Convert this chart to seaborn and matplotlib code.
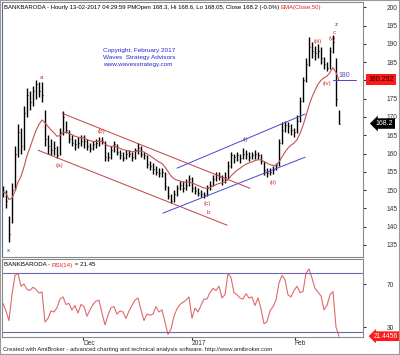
import matplotlib
matplotlib.use("Agg")
import pandas as pd
import seaborn as sns
from matplotlib import pyplot as plt
from matplotlib.patches import Rectangle

# hourly bars (roughly one value per 3 px)
high = [151, 150, 143, 152, 162, 168, 167, 173, 178, 177,
        178.5, 180, 179.5, 179.5, 172, 165, 164, 163.5, 162, 167,
        171.5, 169, 166.5, 165, 164, 164.5, 165, 165, 164, 163,
        163.5, 164, 164.5, 164.5, 163.5, 160.5, 162, 163.5, 162.5, 161,
        160.5, 161, 161, 160.5, 161.5, 163, 162, 160.5, 159.5, 158,
        157.5, 156.5, 156, 156, 155, 151, 149, 150, 151.5, 152.5,
        152.5, 153, 154, 153.5, 151, 150.5, 150, 149.5, 151.5, 152.5,
        154, 155, 155, 154, 155, 158, 160.5, 160, 160.5, 160,
        161.5, 161, 160.5, 160.5, 161, 160.5, 160, 158, 156, 156,
        156.5, 157.5, 164, 168.5, 169, 168.5, 168, 167, 170.5, 175.5,
        181, 186, 191.8, 190.5, 189.5, 190, 189, 186.5, 185, 189,
        192.3, 186, 172]
low = [148, 145, 135.8, 141, 150, 159, 160, 161, 170, 172,
       173, 175, 175.5, 174, 162, 160, 159.5, 159.5, 158.7, 159.5,
       165, 165.5, 163, 162, 161, 161.5, 162, 161.5, 161, 160.5,
       161, 161.5, 162, 162.5, 158, 158, 158.5, 160.5, 159.5, 158.5,
       158, 158.5, 159, 158, 158.5, 160, 159, 158.5, 156, 155.5,
       154.5, 154, 153.5, 153.5, 150, 147.5, 146.5, 146.8, 148.5, 150,
       149.5, 150, 151, 149.5, 148.8, 148.5, 148, 147.8, 148.5, 150,
       151, 152.5, 152.8, 151.5, 152, 153, 156, 157.5, 158, 157.5,
       158.5, 158.5, 158, 158.5, 158.5, 158.5, 157, 154, 153.5, 154,
       154.5, 155.5, 156.5, 162.5, 166, 165.5, 165, 164.5, 165.5, 168.5,
       174, 179.5, 184, 186, 185.5, 186, 184.5, 183, 182.5, 183,
       187.5, 173, 168]
close = [149.5, 147, 138, 150, 160, 166, 162, 171, 176, 174,
         177, 179, 177, 176, 164, 162, 161, 161.5, 159.5, 166,
         170, 166.5, 164, 163, 162.5, 163, 163.5, 163.5, 162, 161.5,
         162.5, 163, 163.5, 163.5, 159, 159, 161, 162.5, 160.5, 159.5,
         158.8, 160, 160, 159, 161, 161.5, 160, 159.5, 157, 156.5,
         155.8, 155, 154.6, 155, 151, 148.5, 147, 149, 150.5, 151.5,
         150.5, 151.5, 153, 150.5, 149.8, 149.2, 149, 148.6, 150.5, 151.5,
         153, 154, 153.6, 152.8, 153.5, 156.5, 159.5, 159, 159.6, 158.8,
         160, 160, 159, 159.6, 160, 159.5, 158, 155.5, 154.6, 155,
         155.5, 156.8, 163, 166.5, 167.8, 167.5, 166.5, 166, 169, 174.5,
         180, 184.5, 189, 188, 187.5, 188, 186, 184.5, 183.5, 188,
         190.5, 175, 168.2]
rsi = [52, 45, 36, 60, 78, 80, 68, 70, 65, 64,
       67, 65, 61.6, 62.5, 34.6, 38, 45, 44, 48, 56,
       58, 51, 52, 45.8, 50, 43, 51, 49, 40, 46,
       51, 54, 55, 43, 32, 41, 48, 49, 42, 45,
       44, 38, 45, 50, 55, 57, 46, 36, 42, 41,
       42, 49, 44, 46, 34.6, 23, 28, 40, 47, 51,
       53, 55, 58, 38, 47.6, 44, 50, 56, 56, 62,
       66, 64, 68, 57, 60, 80, 76, 62, 60, 57,
       56, 61, 57, 58, 50, 57, 47, 33, 35, 45,
       49, 55, 71, 78, 74, 60, 58, 64, 68, 62,
       63, 80, 84, 75.6, 66, 62.5, 59, 46, 50, 60,
       63, 30, 21.45]

date_labels = ['Dec', '2017', 'Feb']
date_bars = [26.7, 63, 97.3]

# wave counts (bar, price)
wave_text = ['x', 'a', '(a)', '(b)', '(c)', 'b', '(i)', '(ii)', '(iii)', '(iv)', '(v)', 'c', 'z']
wave_bar = [1.7, 13, 18.7, 33, 68, 68.3, 80.7, 90, 105, 108, 109.7, 110.3, 111]
wave_price = [133.6, 180.9, 156.8, 166.1, 146.2, 144, 163.7, 152.2, 190.7, 179.2, 191.5, 193.2, 195.4]
wave_color = ['#3030c0', '#d03030', '#d03030', '#d03030', '#d03030', '#d03030', '#9030a0',
              '#d03030', '#d03030', '#d03030', '#d03030', '#d03030', '#3030c0']

# channel lines: (bar0, bar1), (price0, price1)
red_upper = ([19.7, 82.3], [171.0, 150.5])
red_lower = ([11.7, 74.7], [160.9, 140.4])
blue_upper = ([58, 100.7], [156.0, 170.8])
blue_lower = ([53.3, 100.7], [143.7, 159.0])
level_180 = ([110, 117.7], [180, 180])

ema_last = 180.292
rsi_last = 21.4456

sns.set_style("white")
plt.rcParams['font.family'] = ['Liberation Sans', 'DejaVu Sans']

bars = pd.DataFrame({'bar': range(len(close)), 'high': high, 'low': low, 'close': close, 'rsi': rsi})
# bars here are ~2.5 hours wide, so the 50-hour EMA becomes a span of ~12 bars
bars['ema'] = bars['close'].ewm(span=12, adjust=False).mean()

fig = plt.figure(figsize=(4, 3.55), dpi=100)
ax = fig.add_axes([0.005, 0.276, 0.9025, 0.718])
rx = fig.add_axes([0.005, 0.0507, 0.9025, 0.2197], sharex=ax)

ax.vlines(bars['bar'], bars['low'], bars['high'], color='black', lw=1.0)
ax.hlines(bars['close'], bars['bar'], bars['bar'] + 0.5, color='black', lw=0.8)
sns.lineplot(data=bars, x='bar', y='ema', ax=ax, color='#c85050', lw=0.8)

for xs, ys, col in [(red_upper[0], red_upper[1], '#c04040'), (red_lower[0], red_lower[1], '#c04040'),
                    (blue_upper[0], blue_upper[1], '#4848c8'), (blue_lower[0], blue_lower[1], '#4848c8'),
                    (level_180[0], level_180[1], '#4848c8')]:
    ax.plot(xs, ys, color=col, lw=0.7)
ax.text(111.7, 180.4, '180', color='#4848c8', fontsize=5, va='bottom')

for t, xb, yp, c in zip(wave_text, wave_bar, wave_price, wave_color):
    ax.text(xb, yp, t, color=c, fontsize=4.5, ha='center', va='center')

ax.set_xlim(-0.33, 120)
ax.set_ylim(131.7, 201.4)
ax.set_yticks(range(135, 201, 5))
ax.set_yticklabels(['' if v == 180 else str(v) for v in range(135, 201, 5)])
ax.yaxis.tick_right()
ax.tick_params(axis='y', labelsize=4.8, pad=15, length=2, direction='out', right=True, colors='#333333')
ax.tick_params(axis='x', bottom=False, labelbottom=False)
ax.set_xlabel('')
ax.set_ylabel('')

ytr = ax.get_yaxis_transform()
ax.text(1.015, ema_last, '%.3f' % ema_last, transform=ytr, fontsize=5, va='center', ha='left',
        color='#200000', clip_on=False, zorder=5,
        bbox=dict(boxstyle='square,pad=0.3', fc='#ff1a1a', ec='none'))
ax.text(1.035, close[-1], '%.1f' % close[-1], transform=ytr, fontsize=5, va='center', ha='left',
        color='white', clip_on=False, zorder=5,
        bbox=dict(boxstyle='larrow,pad=0.25', fc='black', ec='none'))

ax.text(0.28, 0.82, 'Copyright, February 2017\nWaves  Strategy Advisors\nwww.wavesstrategy.com',
        transform=ax.transAxes, color='#2828d0', fontsize=4.6, va='top', linespacing=1.45)

# RSI panel
sns.lineplot(data=bars, x='bar', y='rsi', ax=rx, color='#e06a6a', lw=0.8)
rx.axhline(80, color='#6a6ab0', lw=0.8)
rx.axhline(25, color='#6a6ab0', lw=0.8)
rx.set_ylim(20.7, 93.3)
rx.set_yticks([30, 70])
rx.yaxis.tick_right()
rx.tick_params(axis='y', labelsize=4.8, pad=15, length=2, direction='out', right=True, colors='#333333')
rx.set_xticks(date_bars)
rx.set_xticklabels(date_labels)
rx.tick_params(axis='x', labelsize=4.8, length=2, pad=0, direction='out', bottom=True, colors='#333333')
for lbl in rx.get_xticklabels():
    lbl.set_ha('left')
rx.set_xlabel('')
rx.set_ylabel('')
rx.text(1.03, rsi_last, '%.4f' % rsi_last, transform=rx.get_yaxis_transform(), fontsize=4.8,
        va='center', ha='left', color='white', clip_on=False, zorder=5,
        bbox=dict(boxstyle='larrow,pad=0.2', fc='#ff1a1a', ec='none'))

for a in (ax, rx):
    for s in a.spines.values():
        s.set_color('#8a8a8a')
        s.set_linewidth(0.8)
ax.spines['left'].set_color('#5a6a90')


def chain(x, y, parts, size):
    fig.canvas.draw()
    r = fig.canvas.get_renderer()
    for txt, col in parts:
        t = fig.text(x, y, txt, color=col, fontsize=size, va='center')
        x = fig.transFigure.inverted().transform(t.get_window_extent(r))[1][0]


chain(0.01, 1 - 8 / 355, [('BANKBARODA - Hourly 13-02-2017 04:29:59 PMOpen 168.3, Hi 168.6, Lo 168.05, '
                          'Close 168.2 (-0.0%) ', 'black'), ('EMA(Close,50)', '#e02020')], 4.3)
chain(0.01, 1 - 265 / 355, [('BANKBARODA - ', 'black'), ('RSI(14)', '#e02020'), (' = 21.45', 'black')], 4.4)
fig.text(0.008, 1 - 350 / 355, 'Created with AmiBroker - advanced charting and technical analysis software. '
         'http://www.amibroker.com', fontsize=4.2, va='center', color='#222222')
fig.patches.append(Rectangle((0, 0), 1, 1, transform=fig.transFigure, fill=False, ec='#9a9a9a', lw=1.5))

fig.savefig('out.png', dpi=100)
